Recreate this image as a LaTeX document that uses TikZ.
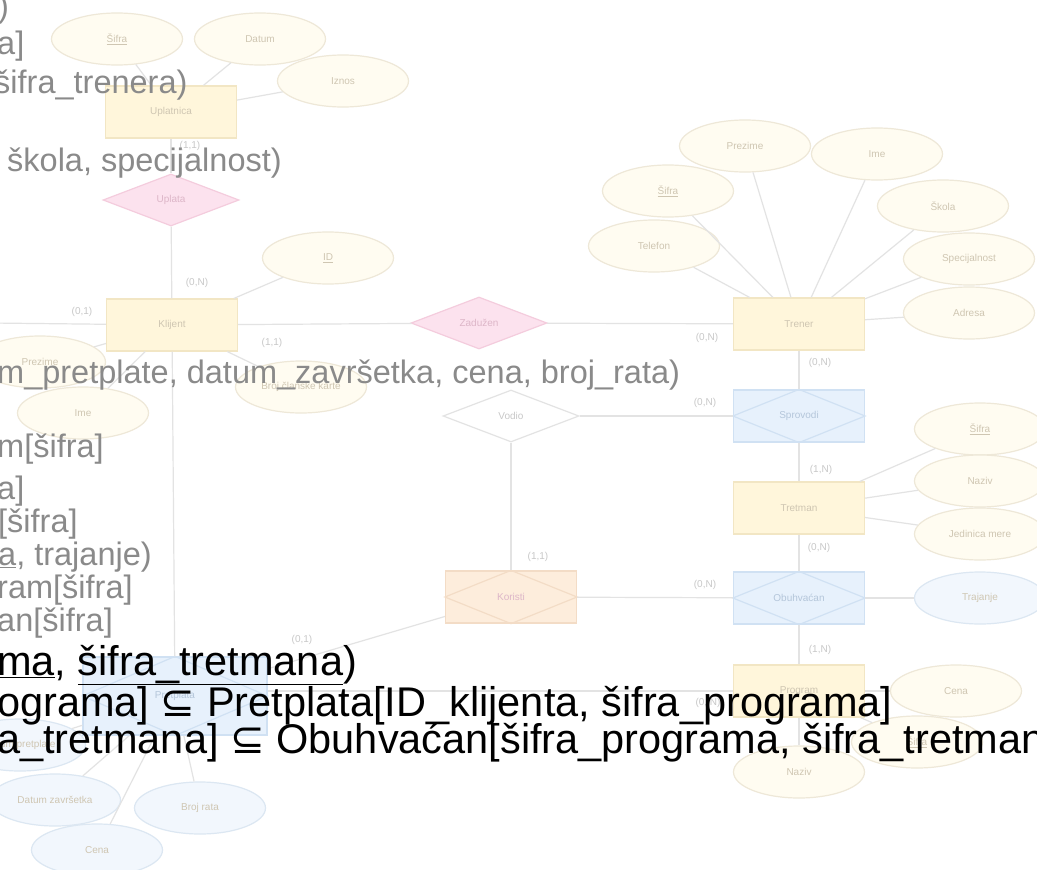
\documentclass[tikz,border=0pt]{standalone}
\usepackage{fontspec}
\setmainfont{Liberation Sans}
\newfontfamily\symfont{DejaVu Sans}
\usetikzlibrary{shapes.geometric}

\definecolor{erline}{HTML}{E3E3E3}
\definecolor{entfill}{HTML}{FFF6DB}
\definecolor{entdraw}{HTML}{F2E6C4}
\definecolor{relfill}{HTML}{FCE2EE}
\definecolor{reldraw}{HTML}{F4CCDD}
\definecolor{attfill}{HTML}{FFFCF1}
\definecolor{attdraw}{HTML}{EEE8D8}
\definecolor{assfill}{HTML}{E7F1FC}
\definecolor{assdraw}{HTML}{D0E1F3}
\definecolor{orafill}{HTML}{FDEDDC}
\definecolor{oradraw}{HTML}{F3DCC6}
\definecolor{batfill}{HTML}{F2F7FD}
\definecolor{batdraw}{HTML}{DCE7F2}
\definecolor{ertext}{HTML}{CFC6B2}
\definecolor{reltext}{HTML}{DDB6C8}
\definecolor{asstext}{HTML}{B4C6DA}
\definecolor{cardtext}{HTML}{C8C8C8}
\definecolor{schemagray}{HTML}{8A8A8A}

\newcommand{\erfont}{\fontsize{10}{12}\selectfont}
\newcommand{\inclsym}{{\symfont ⊆}}

\begin{document}
\begin{tikzpicture}[x=1pt, y=-1pt,
        entity/.style={rectangle, draw=entdraw, fill=entfill, line width=1.2pt, minimum width=131pt, minimum height=52pt, font=\erfont, text=ertext},
        relship/.style={diamond, draw=reldraw, fill=relfill, line width=1.2pt, minimum width=136pt, minimum height=52pt, inner sep=0pt, font=\erfont, text=reltext},
        assoc/.style={entity, draw=assdraw, fill=assfill, text=asstext},
        attr/.style={ellipse, draw=attdraw, fill=attfill, line width=1.2pt, minimum width=131pt, minimum height=52pt, inner sep=0pt, font=\erfont, text=ertext},
        battr/.style={attr, draw=batdraw, fill=batfill},
        card/.style={font=\erfont, text=cardtext, inner sep=0pt},
        link/.style={draw=erline, line width=1.2pt},
        schema/.style={anchor=base west, inner sep=0pt, text=schemagray, font=\fontsize{32.5}{33}\selectfont},
        schemab/.style={schema, text=black, font=\fontsize{41.5}{42}\selectfont}
    ]
        \useasboundingbox (0,0) rectangle (1037,870);
        \clip (0,0) rectangle (1037,870);
        \fill[white] (0,0) rectangle (1037,870);

        % Nodes
        \node[attr] (usifra) at (117,39) {\underline{Šifra}};
        \node[attr] (udatum) at (260,39) {Datum};
        \node[attr] (uiznos) at (343,81) {Iznos};
        \node[entity] (uplatnica) at (171,112) {Uplatnica};
        \node[relship] (uplata) at (171,200) {Uplata};

        \node[entity] (klijent) at (172,325) {Klijent};
        \node[attr] (kid) at (328,258) {\underline{ID}};
        \node[attr] (kprezime) at (40,362) {Prezime};
        \node[attr] (kime) at (83,413) {Ime};
        \node[attr] (kbroj) at (301,387) {Broj članske karte};
        \coordinate (kleft) at (-10,323);
        \node[relship] (zaduzen) at (479,323) {Zadužen};

        \node[entity] (trener) at (799,324) {Trener};
        \node[attr] (tprezime) at (745,146) {Prezime};
        \node[attr] (time) at (877,154) {Ime};
        \node[attr] (tsifra) at (668,191) {\underline{Šifra}};
        \node[attr] (ttelefon) at (654,246) {Telefon};
        \node[attr] (tskola) at (943,206) {Škola};
        \node[attr] (tspec) at (969,259) {Specijalnost};
        \node[attr] (tadresa) at (969,313) {Adresa};

        \node[relship, draw=erline, fill=white, text=cardtext] (vodio) at (511,416) {Vodio};
        \node[assoc] (sprovodi) at (799,416) {Sprovodi};
        \node[entity] (tretman) at (799,508) {Tretman};
        \node[attr] (rsifra) at (980,429) {\underline{Šifra}};
        \node[attr] (rnaziv) at (980,481) {Naziv};
        \node[attr] (rjedinica) at (980,534) {Jedinica mere};

        \node[assoc, draw=oradraw, fill=orafill, text=reltext] (koristi) at (511,597) {Koristi};
        \node[assoc] (obuhvacan) at (799,598) {Obuhvaćan};
        \node[battr] (trajanje) at (980,598) {Trajanje};

        \node[entity] (program) at (799,691) {Program};
        \node[attr] (pcena) at (956,691) {Cena};
        \node[attr] (psifra) at (917,742) {\underline{Šifra}};
        \node[attr] (pnaziv) at (799,772) {Naziv};

        \node[assoc, minimum width=184pt, minimum height=78pt] (pretplata) at (175,696) {Pretplata};
        \node[battr] (pdatump) at (20,745) {Datum pretplate};
        \node[battr] (pdatumz) at (55,800) {Datum završetka};
        \node[battr] (pbroj) at (200,808) {Broj rata};
        \node[battr] (pcena2) at (97,850) {Cena};

        % Diamonds inside the boxes
        \foreach \n/\c in {sprovodi/assdraw, obuhvacan/assdraw, koristi/oradraw, pretplata/assdraw}
            \draw[\c, line width=1.2pt] (\n.north) -- (\n.east) -- (\n.south) -- (\n.west) -- cycle;

        % Paths
        \foreach \a in {usifra, udatum, uiznos}
            \draw[link] (\a) -- (uplatnica);
        \draw[link] (uplatnica) -- (uplata);
        \draw[link] (uplata) -- (klijent);
        \foreach \a in {kid, kprezime, kime, kbroj, kleft, zaduzen}
            \draw[link] (klijent) -- (\a);
        \draw[link] (zaduzen) -- (trener);
        \foreach \a in {tprezime, time, tsifra, ttelefon, tskola, tspec, tadresa}
            \draw[link] (\a) -- (trener);
        \draw[link] (trener) -- (sprovodi);
        \draw[link] (vodio) -- (sprovodi);
        \draw[link] (sprovodi) -- (tretman);
        \foreach \a in {rsifra, rnaziv, rjedinica}
            \draw[link] (\a) -- (tretman);
        \draw[link] (tretman) -- (obuhvacan);
        \draw[link] (vodio) -- (koristi);
        \draw[link] (koristi) -- (obuhvacan);
        \draw[link] (obuhvacan) -- (trajanje);
        \draw[link] (obuhvacan) -- (program);
        \foreach \a in {pcena, psifra, pnaziv}
            \draw[link] (program) -- (\a);
        \draw[link] (program.west) -- (program.west -| pretplata.east);
        \draw[link] (pretplata) -- (koristi);
        \draw[link] (klijent) -- (pretplata);
        \foreach \a in {pdatump, pdatumz, pbroj, pcena2}
            \draw[link] (pretplata) -- (\a);

        % Cardinalities
        \node[card] (c1) at (190,146) {(1,1)};
        \node[card] (c2) at (197,283) {(0,N)};
        \node[card] (c3) at (82,312) {(0,1)};
        \node[card] (c4) at (272,343) {(1,1)};
        \node[card] (c5) at (707,338) {(0,N)};
        \node[card] (c6) at (820,363) {(0,N)};
        \node[card] (c7) at (705,403) {(0,N)};
        \node[card] (c8) at (821,470) {(1,N)};
        \node[card] (c9) at (819,548) {(0,N)};
        \node[card] (c10) at (538,557) {(1,1)};
        \node[card] (c11) at (705,585) {(0,N)};
        \node[card] (c12) at (820,650) {(1,N)};
        \node[card] (c13) at (708,703) {(0, N)};
        \node[card] (c14) at (302,640) {(0,1)};

        % Schema text
        \node[schema] (s1) at (-2,17) {)};
        \node[schema] (s2) at (-3,54) {a]};
        \node[schema] (s3) at (-6,93) {šifra\_trenera)};
        \node[schema] (s4) at (7,171) {škola, specijalnost)};
        \node[schema] (s5) at (-3,383) {m\_pretplate, datum\_završetka, cena, broj\_rata)};
        \node[schema] (s6) at (-3,457) {m[šifra]};
        \node[schema] (s7) at (-3,499) {a]};
        \node[schema] (s8) at (-2,532) {[šifra]};
        \node[schema] (s9) at (-2,565) {\underline{a}, trajanje)};
        \node[schema] (s10) at (-3,598) {ram[šifra]};
        \node[schema] (s11) at (-3,631) {an[šifra]};
        \node[schemab] (b1) at (-3,675) {\underline{ma}, \underline{šifra\_tretmana})};
        \node[schemab] (b2) at (-3,716) {ograma] \inclsym{} Pretplata[ID\_klijenta, šifra\_programa]};
        \node[schemab] (b3) at (-3,753) {a\_tretmana] \inclsym{} Obuhvaćan[šifra\_programa, šifra\_tretman};
    \end{tikzpicture}
\end{document}
